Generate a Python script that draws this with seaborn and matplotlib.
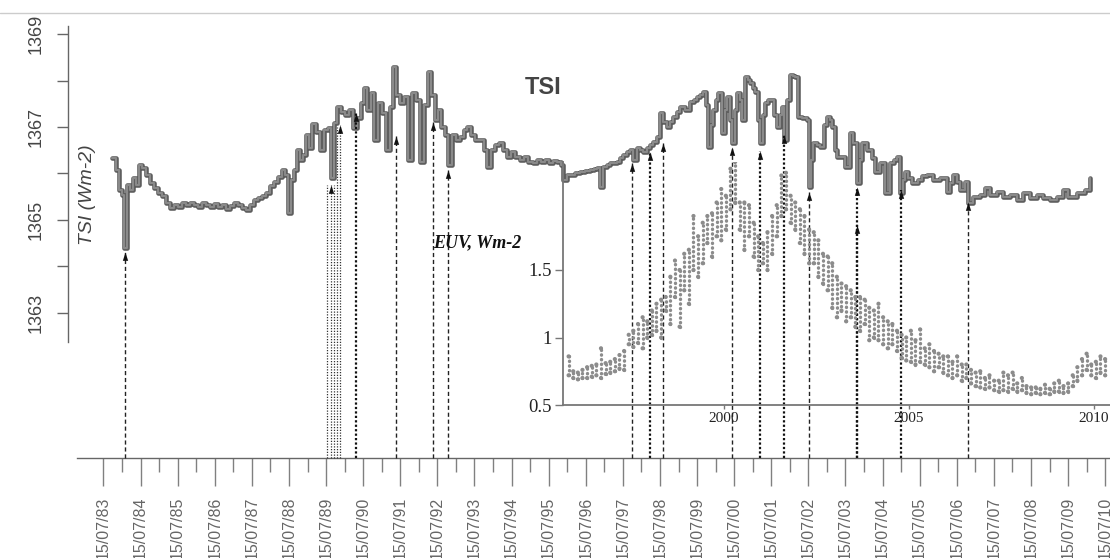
import matplotlib
matplotlib.use("Agg")
import matplotlib.pyplot as plt
from matplotlib.lines import Line2D
from matplotlib.ticker import FixedLocator, FixedFormatter, NullFormatter
import seaborn as sns

sns.set_theme(style="ticks")
plt.rcParams['font.family'] = ['Liberation Sans', 'DejaVu Sans']

# ---------------- data ----------------
# Total solar irradiance (W m-2), step series
tsi_year = [
    1983.77, 1983.87, 1983.96, 1984.04, 1984.09, 1984.17, 1984.25, 1984.33, 1984.41, 1984.49,
    1984.58, 1984.68, 1984.79, 1984.90, 1985.01, 1985.11, 1985.22, 1985.33, 1985.44, 1985.55,
    1985.65, 1985.76, 1985.87, 1985.98, 1986.08, 1986.19, 1986.30, 1986.41, 1986.52, 1986.62,
    1986.73, 1986.84, 1986.95, 1987.05, 1987.16, 1987.27, 1987.38, 1987.49, 1987.59, 1987.70,
    1987.81, 1987.92, 1988.03, 1988.13, 1988.24, 1988.35, 1988.43, 1988.51, 1988.59, 1988.67,
    1988.75, 1988.83, 1988.91, 1989.00, 1989.08, 1989.16, 1989.27, 1989.37, 1989.48, 1989.59,
    1989.67, 1989.75, 1989.83, 1989.94, 1990.05, 1990.15, 1990.26, 1990.37, 1990.48, 1990.56,
    1990.64, 1990.75, 1990.83, 1990.94, 1991.04, 1991.15, 1991.26, 1991.34, 1991.42, 1991.53,
    1991.64, 1991.75, 1991.85, 1991.96, 1992.07, 1992.18, 1992.28, 1992.37, 1992.47, 1992.55,
    1992.63, 1992.74, 1992.82, 1992.93, 1993.04, 1993.15, 1993.25, 1993.34, 1993.44, 1993.55,
    1993.69, 1993.79, 1993.87, 1993.98, 1994.09, 1994.20, 1994.31, 1994.41, 1994.52, 1994.63,
    1994.76, 1994.87, 1994.98, 1995.11, 1995.22, 1995.33, 1995.44, 1995.55, 1995.65, 1995.76,
    1995.87, 1995.92, 1996.03, 1996.14, 1996.25, 1996.38, 1996.52, 1996.65, 1996.76, 1996.84,
    1996.92, 1997.00, 1997.11, 1997.19, 1997.30, 1997.38, 1997.46, 1997.54, 1997.65, 1997.73,
    1997.81, 1997.92, 1998.00, 1998.08, 1998.19, 1998.27, 1998.35, 1998.46, 1998.54, 1998.62,
    1998.73, 1998.81, 1998.89, 1999.00, 1999.08, 1999.21, 1999.35, 1999.45, 1999.54, 1999.62,
    1999.70, 1999.78, 1999.83, 1999.91, 1999.97, 2000.05, 2000.10, 2000.21, 2000.29, 2000.34,
    2000.42, 2000.48, 2000.56, 2000.61, 2000.69, 2000.75, 2000.83, 2000.91, 2000.96, 2001.04,
    2001.10, 2001.18, 2001.23, 2001.31, 2001.37, 2001.45, 2001.50, 2001.61, 2001.69, 2001.77,
    2001.83, 2001.88, 2001.96, 2002.04, 2002.12, 2002.18, 2002.26, 2002.37, 2002.50, 2002.55,
    2002.61, 2002.66, 2002.77, 2002.85, 2002.96, 2003.04, 2003.12, 2003.17, 2003.25, 2003.31,
    2003.39, 2003.52, 2003.66, 2003.74, 2003.85, 2003.93, 2003.98, 2004.12, 2004.25, 2004.33,
    2004.47, 2004.60, 2004.74, 2004.84, 2004.93, 2005.01, 2005.09, 2005.14, 2005.22, 2005.33,
    2005.49, 2005.60, 2005.73, 2005.90, 2006.08, 2006.27, 2006.35, 2006.44, 2006.54, 2006.62,
    2006.76, 2006.84, 2006.97, 2007.16, 2007.30, 2007.43, 2007.62, 2007.78, 2007.97, 2008.16,
    2008.32, 2008.51, 2008.70, 2008.86, 2009.05, 2009.24, 2009.40, 2009.54, 2009.78, 2009.99,
    2010.13,
]
tsi_value = [
    1366.33, 1366.07, 1365.64, 1365.53, 1364.39, 1365.75, 1365.64, 1365.90, 1365.75, 1366.18,
    1366.12, 1365.97, 1365.79, 1365.69, 1365.58, 1365.51, 1365.36, 1365.25, 1365.32, 1365.28,
    1365.36, 1365.32, 1365.36, 1365.32, 1365.28, 1365.36, 1365.32, 1365.28, 1365.34, 1365.28,
    1365.32, 1365.23, 1365.30, 1365.36, 1365.32, 1365.25, 1365.21, 1365.32, 1365.43, 1365.47,
    1365.51, 1365.58, 1365.73, 1365.81, 1365.92, 1366.07, 1365.97, 1365.15, 1365.86, 1366.07,
    1366.50, 1366.29, 1366.40, 1366.83, 1366.55, 1367.06, 1366.89, 1366.50, 1366.94, 1366.98,
    1365.90, 1367.09, 1367.43, 1367.32, 1367.26, 1367.37, 1366.98, 1367.19, 1367.52, 1367.84,
    1367.37, 1367.73, 1366.72, 1367.52, 1367.30, 1366.50, 1367.43, 1368.29, 1367.69, 1367.52,
    1367.65, 1366.29, 1367.73, 1367.58, 1366.25, 1367.47, 1368.19, 1367.69, 1367.15, 1367.37,
    1367.00, 1366.83, 1366.18, 1366.83, 1366.72, 1366.78, 1366.94, 1367.00, 1366.83, 1366.72,
    1366.72, 1366.50, 1366.14, 1366.50, 1366.61, 1366.66, 1366.50, 1366.35, 1366.46, 1366.35,
    1366.29, 1366.35, 1366.25, 1366.22, 1366.29, 1366.25, 1366.29, 1366.22, 1366.27, 1366.25,
    1366.18, 1365.86, 1365.97, 1365.97, 1366.01, 1366.03, 1366.05, 1366.07, 1366.09, 1366.12,
    1365.71, 1366.14, 1366.18, 1366.22, 1366.22, 1366.25, 1366.33, 1366.40, 1366.46, 1366.50,
    1366.29, 1366.55, 1366.50, 1366.46, 1366.55, 1366.61, 1366.68, 1366.78, 1367.30, 1367.11,
    1367.00, 1367.11, 1367.22, 1367.32, 1367.43, 1367.37, 1367.54, 1367.58, 1367.65, 1367.69,
    1367.75, 1367.47, 1366.57, 1367.04, 1367.37, 1367.58, 1367.73, 1366.87, 1367.37, 1367.65,
    1367.15, 1366.66, 1367.37, 1367.73, 1367.58, 1367.15, 1368.08, 1368.01, 1367.95, 1367.84,
    1367.75, 1367.15, 1366.66, 1367.26, 1367.52, 1367.58, 1367.58, 1367.26, 1367.00, 1367.26,
    1367.43, 1366.72, 1367.58, 1368.12, 1368.10, 1368.08, 1367.22, 1367.19, 1367.15, 1365.71,
    1366.29, 1366.66, 1366.61, 1366.57, 1367.04, 1367.22, 1367.15, 1367.00, 1366.50, 1366.35,
    1366.35, 1366.14, 1366.87, 1366.66, 1365.79, 1366.29, 1366.66, 1366.50, 1366.33, 1366.03,
    1366.22, 1365.58, 1366.22, 1366.29, 1366.35, 1365.58, 1365.86, 1366.03, 1365.90, 1365.79,
    1365.86, 1365.94, 1365.97, 1365.86, 1365.90, 1365.60, 1365.79, 1365.97, 1365.81, 1365.64,
    1365.81, 1365.36, 1365.49, 1365.53, 1365.69, 1365.53, 1365.60, 1365.49, 1365.53, 1365.43,
    1365.58, 1365.47, 1365.53, 1365.47, 1365.43, 1365.49, 1365.64, 1365.49, 1365.58, 1365.64,
    1365.90,
]

# EUV flux (W m-2): spread of daily values within each 1/8-year bin
euv_first_year = 1995.8
euv_low = [
    0.72, 0.70, 0.69, 0.70, 0.70, 0.71, 0.72, 0.70, 0.73, 0.74,
    0.75, 0.77, 0.76, 0.95, 0.93, 0.96, 0.92, 1.00, 1.02, 1.05,
    1.00, 1.20, 1.10, 1.30, 1.08, 1.35, 1.25, 1.50, 1.45, 1.55,
    1.70, 1.60, 1.75, 1.72, 1.80, 1.95, 2.00, 1.80, 1.65, 1.75,
    1.60, 1.50, 1.55, 1.50, 1.62, 1.75, 1.90, 1.95, 1.85, 1.80,
    1.70, 1.62, 1.55, 1.55, 1.45, 1.40, 1.35, 1.22, 1.15, 1.20,
    1.12, 1.15, 1.08, 1.05, 1.10, 0.98, 1.00, 0.98, 0.95, 0.92,
    0.95, 0.90, 0.85, 0.83, 0.82, 0.80, 0.82, 0.80, 0.78, 0.75,
    0.78, 0.74, 0.72, 0.70, 0.72, 0.68, 0.70, 0.66, 0.64, 0.63,
    0.62, 0.63, 0.61, 0.60, 0.61, 0.60, 0.62, 0.60, 0.61, 0.59,
    0.58, 0.59, 0.58, 0.59, 0.58, 0.60, 0.60, 0.59, 0.60, 0.64,
    0.68, 0.72, 0.76, 0.72, 0.70, 0.74, 0.72,
]
euv_high = [
    0.86, 0.75, 0.74, 0.76, 0.78, 0.79, 0.80, 0.92, 0.81, 0.82,
    0.84, 0.87, 0.90, 1.02, 1.05, 1.10, 1.15, 1.12, 1.20, 1.25,
    1.28, 1.30, 1.45, 1.57, 1.50, 1.62, 1.65, 1.90, 1.75, 1.85,
    1.90, 1.92, 2.00, 2.10, 2.05, 2.25, 2.30, 2.00, 2.00, 1.98,
    1.85, 1.75, 1.70, 1.78, 1.90, 1.98, 2.20, 2.22, 2.05, 2.00,
    1.95, 1.90, 1.80, 1.78, 1.72, 1.62, 1.60, 1.55, 1.45, 1.40,
    1.38, 1.35, 1.30, 1.30, 1.28, 1.22, 1.20, 1.25, 1.15, 1.12,
    1.10, 1.05, 1.02, 1.00, 1.05, 0.98, 1.06, 0.92, 0.95, 0.90,
    0.88, 0.86, 0.86, 0.82, 0.86, 0.80, 0.80, 0.76, 0.74, 0.75,
    0.70, 0.72, 0.68, 0.68, 0.74, 0.72, 0.74, 0.66, 0.70, 0.64,
    0.63, 0.63, 0.62, 0.65, 0.62, 0.66, 0.68, 0.64, 0.66, 0.72,
    0.78, 0.84, 0.88, 0.80, 0.82, 0.86, 0.84,
]

# Events marked on the TSI record: date and the TSI level the arrow points to
arrow_year = [1984.12, 1989.66, 1989.92, 1990.35, 1991.42, 1992.42, 1992.82,
              1997.78, 1998.27, 1998.62, 2000.48, 2001.23, 2001.88, 2002.56,
              2003.85, 2003.85, 2005.04, 2006.84]
arrow_tip = [1364.31, 1365.75, 1367.04, 1367.30, 1366.80, 1367.11, 1366.07,
             1366.22, 1366.46, 1366.66, 1366.57, 1366.48, 1366.83, 1365.60,
             1365.71, 1364.89, 1365.64, 1365.38]
arrow_kind = ['dash', 'fine', 'fine', 'dot', 'dash', 'dash', 'dash',
              'dash', 'dot', 'dash', 'dash', 'dot', 'dot', 'dash',
              'dot', 'dot', 'dot', 'dash']
# extra unheaded guide lines in the 1989 cluster
guide_year = [1989.57, 1989.74, 1989.82]
guide_top = [1365.75, 1365.75, 1367.00]

tick_years = list(range(1983, 2011))
tick_labels = ["15/07/%02d" % (y % 100) for y in tick_years]
tsi_ticks = [1363, 1365, 1367, 1369]
tsi_minor = [1364, 1366, 1368]
euv_ticks = [0.5, 1.0, 1.5]
euv_tick_labels = ["0.5", "1", "1.5"]
euv_year_ticks = [2000, 2005, 2010]

# ---------------- layout ----------------
W_PX, H_PX = 1110, 558
fig = plt.figure(figsize=(W_PX / 100, H_PX / 100), dpi=100)
fig.patch.set_facecolor('white')

PX_YR = 37.1          # pixels per year on the date axis
PX_W = 46.4           # pixels per W m-2 on the TSI axis
x_left = 1983.54 - 103.6 / PX_YR
y_top = 1367 + 127 / PX_W

ax = fig.add_axes([0, 0, 1, 1])
ax.set_facecolor('none')
ax.set_xlim(x_left, x_left + W_PX / PX_YR)
ax.set_ylim(y_top - H_PX / PX_W, y_top)
axis_level = 1367 - 331 / PX_W

for side in ('top', 'right'):
    ax.spines[side].set_visible(False)
ax.spines['left'].set_position(('data', x_left + 68 / PX_YR))
ax.spines['left'].set_bounds(1362.37, 1369.17)
ax.spines['bottom'].set_position(('data', axis_level))
ax.spines['bottom'].set_bounds(x_left + 77 / PX_YR, x_left + W_PX / PX_YR)
for side in ('left', 'bottom'):
    ax.spines[side].set_color('#666666')
    ax.spines[side].set_linewidth(1.0)

# TSI tick marks
ax.yaxis.set_major_locator(FixedLocator(tsi_ticks))
ax.yaxis.set_minor_locator(FixedLocator(tsi_minor))
ax.yaxis.set_minor_formatter(NullFormatter())
ax.tick_params(axis='y', which='both', left=True, direction='out', length=8,
               width=1, color='#666666', labelsize=13, labelcolor='#444444', pad=9)
for lbl in ax.get_yticklabels():
    lbl.set_rotation(90)
    lbl.set_va('center')

# date tick marks
ax.xaxis.set_major_locator(FixedLocator([y + 0.537 for y in tick_years]))
ax.xaxis.set_major_formatter(FixedFormatter(tick_labels))
ax.xaxis.set_minor_locator(FixedLocator([y + 0.037 for y in range(1984, 2012)]))
ax.xaxis.set_minor_formatter(NullFormatter())
ax.tick_params(axis='x', which='major', bottom=True, direction='out', length=20,
               width=1, color='#808080', labelsize=11.5, labelcolor='#666666',
               pad=8, labelrotation=90)
ax.tick_params(axis='x', which='minor', bottom=True, direction='out', length=10,
               width=1, color='#808080')

# TSI record: darker edge with a grey core
sns.lineplot(x=tsi_year, y=tsi_value, ax=ax, estimator=None, drawstyle='steps-post',
             color='#5e5e5e', linewidth=3.3)
sns.lineplot(x=tsi_year, y=tsi_value, ax=ax, estimator=None, drawstyle='steps-post',
             color='#8a8a8a', linewidth=1.5)
ax.set_xlabel('')
ax.set_ylabel('')

# event arrows
line_styles = {
    'dash': dict(ls=(0, (3, 2)), lw=1.0, color='#222222'),
    'dot': dict(ls=(0, (1, 1)), lw=1.6, color='#111111'),
    'fine': dict(ls=(0, (1, 1.2)), lw=0.9, color='#333333'),
}
head = [(-0.32, -1.0), (0.32, -1.0), (0.0, 0.0), (-0.32, -1.0)]
for yr, tip, kind in zip(arrow_year, arrow_tip, arrow_kind):
    ax.plot([yr, yr], [axis_level, tip], zorder=4, **line_styles[kind])
    ax.plot([yr], [tip], marker=head, markersize=12, color='#111111',
            markeredgewidth=0, zorder=5)
for yr, top in zip(guide_year, guide_top):
    ax.plot([yr, yr], [axis_level, top], zorder=4, **line_styles['fine'])

# ---------------- EUV inset ----------------
in_left, in_right = 563 / W_PX, 1.0
in_bottom, in_top = (H_PX - 405) / H_PX, (H_PX - 162) / H_PX
ax_in = fig.add_axes([in_left, in_bottom, in_right - in_left, in_top - in_bottom])
ax_in.set_facecolor('none')
ax_in.set_xlim(2000 + (563 - 724) / 37.0, 2000 + (W_PX - 724) / 37.0)
ax_in.set_ylim(0.5, 0.5 + 243 / 135)
for side in ('top', 'right'):
    ax_in.spines[side].set_visible(False)
for side in ('left', 'bottom'):
    ax_in.spines[side].set_color('#777777')
    ax_in.spines[side].set_linewidth(1.3)

euv_year = [euv_first_year + i / 8 for i in range(len(euv_low))]
ax_in.vlines(euv_year, euv_low, euv_high, colors='#8c8c8c', linewidth=2.4,
             linestyles=[(0, (0.1, 1.3))], capstyle='round')
sns.scatterplot(x=euv_year + euv_year, y=euv_low + euv_high, ax=ax_in,
                s=9, color='#8c8c8c', edgecolor='none')

ax_in.yaxis.set_major_locator(FixedLocator(euv_ticks))
ax_in.yaxis.set_major_formatter(FixedFormatter(euv_tick_labels))
ax_in.xaxis.set_major_locator(FixedLocator(euv_year_ticks))
ax_in.xaxis.set_major_formatter(FixedFormatter([str(y) for y in euv_year_ticks]))
ax_in.tick_params(axis='y', left=True, direction='out', length=6, width=1,
                  color='#777777', labelsize=13.5, labelcolor='#222222', pad=2)
ax_in.tick_params(axis='x', bottom=True, direction='out', length=3, width=1,
                  color='#777777', labelsize=11, labelcolor='#222222', pad=2)
for lbl in ax_in.get_xticklabels() + ax_in.get_yticklabels():
    lbl.set_fontfamily(['Liberation Serif'])
ax_in.set_xlabel('')
ax_in.set_ylabel('')

# ---------------- labels ----------------
fig.text(543 / W_PX, 1 - 87 / H_PX, 'TSI', ha='center', va='center',
         fontsize=17, fontweight='bold', color='#444444')
fig.text(87 / W_PX, 1 - 195 / H_PX, 'TSI (Wm-2)', ha='center', va='center',
         rotation=90, fontsize=14, fontstyle='italic', color='#444444')
fig.text(433 / W_PX, 1 - 243 / H_PX, 'EUV, Wm-2', ha='left', va='center',
         fontsize=13, fontweight='bold', fontstyle='italic', color='#111111',
         family=['Liberation Serif'])
fig.add_artist(Line2D([0, 1], [1 - 13 / H_PX] * 2, color='#cccccc', lw=1.0))

fig.savefig('out.png', dpi=100)
